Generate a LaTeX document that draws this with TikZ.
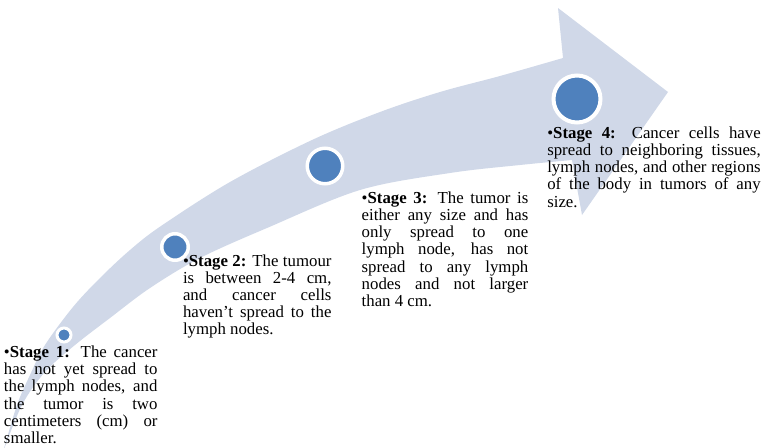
\documentclass[tikz,border=0pt]{standalone}
\usepackage{fontspec}
\setmainfont{Liberation Serif}
\definecolor{bandcol}{RGB}{208,216,232}
\definecolor{dotcol}{RGB}{79,129,189}
\tikzset{
  band/.style={fill=bandcol, draw=none},
  dot/.style={circle, fill=dotcol, draw=white, inner sep=0pt},
  stagetext/.style={anchor=base west, inner sep=0pt, outer sep=0pt},
}
\newcommand{\stagepar}[2]{\parbox[t]{#1}{\fontsize{16.8}{17.2}\selectfont\tolerance=10000\hyphenpenalty=10000\exhyphenpenalty=10000\parfillskip=0pt plus 1fil\relax #2}}
\begin{document}
\begin{tikzpicture}[x=1pt,y=-1pt]
\useasboundingbox (0,0) rectangle (765,447);
\begin{scope}
\clip (0,0) rectangle (765,447);
\fill[band] plot[smooth, tension=0.55] coordinates {(3,452) (17,405) (30,375) (45,345) (73,307) (100,278) (130,250) (161,226) (230,182) (312,140) (380,112) (440,92) (500,76) (563,58)}
  -- (558,8) -- (668,92) -- (582,215) -- (572,160)
  -- plot[smooth, tension=0.55] coordinates {(572,160) (520,165) (450,173) (360,190) (267,228) (200,258) (150,288) (110,318) (75,345) (45,372) (22,405) (3,452)} -- cycle;
\end{scope}
\node[dot, minimum size=14pt, line width=3pt] (c1) at (64,335) {};
\node[dot, minimum size=26.5pt, line width=3.5pt] (c2) at (175,247) {};
\node[dot, minimum size=35.5pt, line width=3.5pt] (c3) at (325,166) {};
\node[dot, minimum size=47pt, line width=4pt] (c4) at (577,99) {};
\node[stagetext] (s1) at (4,357.5) {\stagepar{153.5pt}{•\textbf{Stage 1:} The cancer\linebreak has not yet spread to\linebreak the lymph nodes, and\linebreak the tumor is two\linebreak centimeters (cm) or\linebreak smaller.}};
\node[stagetext] (s2) at (183,266) {\stagepar{148.5pt}{•\textbf{Stage 2:} The tumour\linebreak is between 2-4 cm,\linebreak and cancer cells\linebreak haven’t spread to the\linebreak lymph nodes.}};
\node[stagetext] (s3) at (361.7,203.3) {\stagepar{166.6pt}{•\textbf{Stage 3:} The tumor is\linebreak either any size and has\linebreak only spread to one\linebreak lymph node, has not\linebreak spread to any lymph\linebreak nodes and not larger\linebreak than 4 cm.}};
\node[stagetext] (s4) at (547.3,138.3) {\stagepar{213.4pt}{•\textbf{Stage 4:} Cancer cells have\linebreak spread to neighboring tissues,\linebreak lymph nodes, and other regions\linebreak of the body in tumors of any\linebreak size.}};
\end{tikzpicture}
\end{document}
